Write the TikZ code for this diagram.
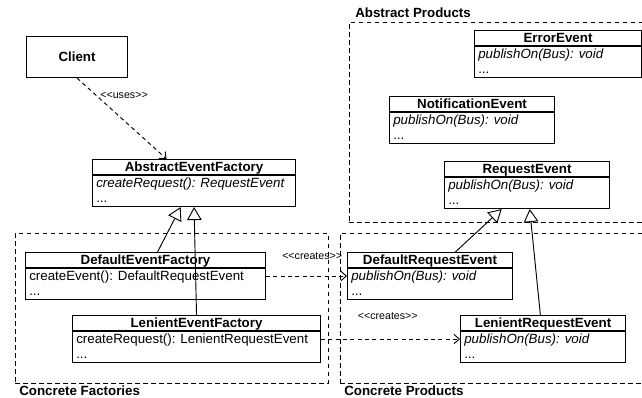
\documentclass[tikz,border=0pt]{standalone}
\usepackage{fontspec}
\setmainfont{Liberation Sans}
\usetikzlibrary{arrows.meta}

\begin{document}
\begin{tikzpicture}[x=0.75pt, y=-0.75pt, font=\fontsize{10}{11.5}\selectfont]
\tikzset{cls/.style={draw, line width=.8pt, anchor=north west, inner sep=0pt, minimum width=#1*0.75pt, minimum height=35.25pt}, ttl/.style={font=\fontsize{10}{11.5}\selectfont\bfseries, anchor=base, inner sep=0pt}, ops/.style={anchor=north west, align=left, inner xsep=3pt, inner ysep=2pt}, grp/.style={draw, line width=.7pt, dash pattern=on 3.5pt off 2.5pt, anchor=north west, inner sep=0pt}, grplbl/.style={font=\fontsize{10}{11.5}\selectfont\bfseries, anchor=base west, inner sep=0pt}, lbl/.style={font=\fontsize{8}{9}\selectfont, inner sep=1pt}, dep/.style={line width=.7pt, dash pattern=on 3pt off 2.5pt, -{Straight Barb[length=4pt, width=7pt]}}, inherit/.style={line width=.7pt, -{Triangle[open, length=9.75pt, width=11pt]}}}
\useasboundingbox (0,0) rectangle (642,398);
\node[grp, minimum width=233.25pt, minimum height=150pt] (ap) at (349,22) {};
\node[grp, minimum width=234.75pt, minimum height=112.5pt] (cf) at (15,233) {};
\node[grp, minimum width=240pt, minimum height=112.5pt] (cp) at (340,233) {};
\node[grplbl] (apl) at ([xshift=4.5pt, yshift=3.3pt]ap.north west) {Abstract Products};
\node[grplbl] (cfl) at ([xshift=3pt, yshift=-8.9pt]cf.south west) {Concrete Factories};
\node[grplbl] (cpl) at ([xshift=3pt, yshift=-8.9pt]cp.south west) {Concrete Products};
\node[cls=101, minimum height=30.75pt, font=\fontsize{10}{11.5}\selectfont\bfseries] (client) at (26,36) {Client};
\foreach \name/\x/\y/\w/\title/\ops in {aef/92/159/203/AbstractEventFactory/\textit{createRequest(): RequestEvent}, def/25/252/240/DefaultEventFactory/createEvent(): DefaultRequestEvent, lef/72/315/248/LenientEventFactory/createRequest(): LenientRequestEvent, err/474/30/167/ErrorEvent/\textit{publishOn(Bus): void}, note/389/96/165/NotificationEvent/\textit{publishOn(Bus): void}, req/444/161/165/RequestEvent/\textit{publishOn(Bus): void}, dre/347/252/165/DefaultRequestEvent/\textit{publishOn(Bus): void}, lre/460/315/165/LenientRequestEvent/\textit{publishOn(Bus): void}} {
  \node[cls=\w] (\name) at (\x,\y) {};
  \node[ttl] (\name t) at ([yshift=-9.6pt]\name.north) {\title};
  \draw[line width=.8pt] ([yshift=-12pt]\name.north west) -- ([yshift=-12pt]\name.north east);
  \node[ops] (\name o) at ([yshift=-12pt]\name.north west) {\ops\\...};
}
\draw[dep] (client.south) -- node[lbl, pos=.21, right, xshift=2pt] (uses) {<{}<uses>{}>} ([xshift=-20.6pt]aef.north);
\draw[dep] (def.east) -- node[lbl, pos=.57, above=11pt] (cr1) {<{}<creates>{}>} (dre.west);
\draw[dep] (lef.east) -- node[lbl, pos=.48, above=13pt] (cr2) {<{}<creates>{}>} (lre.west);
\draw[inherit] ([xshift=9pt]def.north) -- ([xshift=-10pt]aef.south);
\draw[inherit] (lef.north) -- (aef.south);
\draw[inherit] ([xshift=19pt]dre.north) -- ([xshift=-19pt]req.south);
\draw[inherit] ([xshift=-2pt]lre.north) -- ([xshift=2pt]req.south);
\end{tikzpicture}
\end{document}
